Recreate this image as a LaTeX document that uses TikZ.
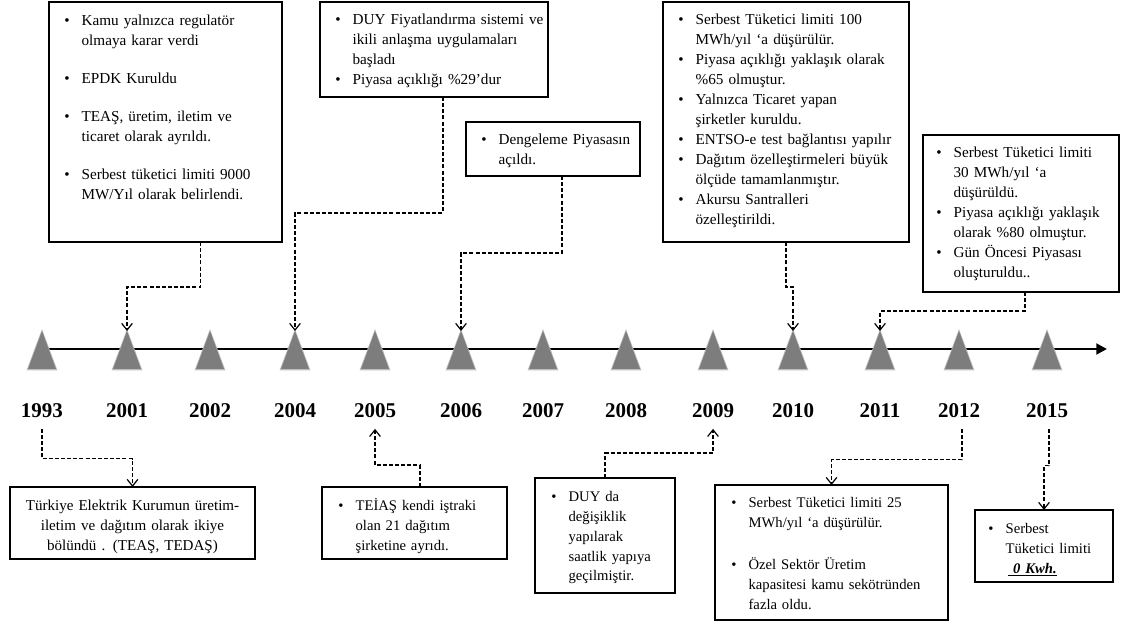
\documentclass[tikz,border=0pt]{standalone}
\usepackage{fontspec}
\setmainfont{Liberation Serif}
\usetikzlibrary{arrows.meta}
\newcommand\bul[1]{\hangindent=13pt\hangafter=1\noindent\hbox to 13pt{\textbullet\hss}#1\par}
\begin{document}
\begin{tikzpicture}[x=0.75pt,y=-0.75pt,
  box/.style={draw=black, line width=1.1pt, anchor=north west, inner sep=0pt, outer sep=0pt},
  txt/.style={anchor=base west, inner sep=0pt, align=left, text width=250*0.75pt, font=\fontsize{11.4}{15}\selectfont},
  stxt/.style={txt, font=\fontsize{11}{15}\selectfont},
  ctxt/.style={anchor=base, inner sep=0pt, align=center, text width=240*0.75pt, font=\fontsize{11.3}{15}\selectfont},
  conn/.style={line width=0.9pt, dash pattern=on 3pt off 1.6pt, -{Straight Barb[length=5pt,width=8pt]}},
  yr/.style={font=\fontsize{15.75}{18}\selectfont\bfseries, inner sep=0pt, outer sep=8pt, anchor=base},
  tri/.style={fill={rgb,255:red,125;green,125;blue,125}},
  trish/.style={fill={rgb,255:red,190;green,190;blue,190}}
]
\useasboundingbox (0,0) rectangle (1122,627);
% axis
\draw[line width=2.2pt, -{Triangle[length=8pt,width=8pt]}] (42,349) -- (1107,349);
% triangles and years
\foreach \x/\n in {42/1993,127/2001,210/2002,295/2004,375/2005,461/2006,543/2007,626/2008,713/2009,793/2010,880/2011,959/2012,1047/2015}{
  \fill[trish] (\x-15.5,370.5) -- (\x,329) -- (\x+15.5,370.5) -- cycle;
  \fill[tri] (\x-14,369) -- (\x,331) -- (\x+14,369) -- cycle;
  \coordinate (a\n) at (\x,331);
  \node[yr] (y\n) at (\x,418) {\n};
}
% top boxes
\node[box, minimum width=233*0.75pt, minimum height=240*0.75pt] (A) at (49,2) {};
\node[txt] (At) at ([shift={(15,24)}]A.north west) {\setlength\parskip{13.5pt}%
\bul{Kamu yalnızca regulatör\newline olmaya karar verdi}
\bul{EPDK Kuruldu}
\bul{TEAŞ, üretim, iletim ve\newline ticaret olarak ayrıldı.}
\bul{Serbest tüketici limiti 9000\newline MW/Yıl olarak belirlendi.}};

\node[box, minimum width=228*0.75pt, minimum height=95*0.75pt] (B) at (320,2) {};
\node[txt] (Bt) at ([shift={(15,23)}]B.north west) {%
\bul{DUY Fiyatlandırma sistemi ve\newline ikili anlaşma uygulamaları\newline başladı}
\bul{Piyasa açıklığı \%29’dur}};

\node[box, minimum width=174*0.75pt, minimum height=54*0.75pt] (C) at (466,122) {};
\node[txt] (Ct) at ([shift={(15,23)}]C.north west) {%
\bul{Dengeleme Piyasasın\newline açıldı.}};

\node[box, minimum width=246*0.75pt, minimum height=240*0.75pt] (D) at (663,2) {};
\node[txt] (Dt) at ([shift={(15,23)}]D.north west) {%
\bul{Serbest Tüketici limiti 100\newline MWh/yıl ‘a düşürülür.}
\bul{Piyasa açıklığı yaklaşık olarak\newline \%65 olmuştur.}
\bul{Yalnızca Ticaret yapan\newline şirketler kuruldu.}
\bul{ENTSO-e test bağlantısı yapılır}
\bul{Dağıtım özelleştirmeleri büyük\newline ölçüde tamamlanmıştır.}
\bul{Akursu Santralleri\newline özelleştirildi.}};

\node[box, minimum width=196*0.75pt, minimum height=157*0.75pt] (E) at (923,135) {};
\node[txt] (Et) at ([shift={(13,23)}]E.north west) {%
\bul{Serbest Tüketici limiti\newline 30 MWh/yıl ‘a\newline düşürüldü.}
\bul{Piyasa açıklığı yaklaşık\newline olarak \%80 olmuştur.}
\bul{Gün Öncesi Piyasası\newline oluşturuldu..}};

% bottom boxes
\node[box, minimum width=245*0.75pt, minimum height=72*0.75pt] (F) at (10,487) {};
\node[ctxt] (Ft) at ([shift={(0,23)}]F.north) {Türkiye Elektrik Kurumun üretim-\\ iletim ve dağıtım olarak ikiye\\ bölündü . (TEAŞ, TEDAŞ)};

\node[box, minimum width=185*0.75pt, minimum height=72*0.75pt] (H) at (322,487) {};
\node[stxt] (Ht) at ([shift={(16,23)}]H.north west) {%
\bul{TEİAŞ kendi iştraki\newline olan 21 dağıtım\newline şirketine ayrıdı.}};

\node[box, minimum width=140*0.75pt, minimum height=115*0.75pt] (G) at (535,478) {};
\node[stxt] (Gt) at ([shift={(16,23)}]G.north west) {%
\bul{DUY da\newline değişiklik\newline yapılarak\newline saatlik yapıya\newline geçilmiştir.}};

\node[box, minimum width=233*0.75pt, minimum height=135*0.75pt] (I) at (715,485) {};
\node[stxt] (It) at ([shift={(16,23)}]I.north west) {\setlength\parskip{16pt}%
\bul{Serbest Tüketici limiti 25\newline MWh/yıl ‘a düşürülür.}
\bul{Özel Sektör Üretim\newline kapasitesi kamu sekötründen\newline fazla oldu.}};

\node[box, minimum width=138*0.75pt, minimum height=72*0.75pt] (J) at (975,510) {};
\node[stxt] (Jt) at ([shift={(13,23)}]J.north west) {%
\bul{Serbest\newline Tüketici limiti\newline \hspace*{2pt}\underline{\textbf{\textit{\ 0 Kwh.}}}}};

% connectors top
\draw[conn] (A.south) ++(35,0) -- ++(0,45) -| (a2001);
\draw[conn] (B.south) ++(9,0) -- ++(0,116) -| (a2004);
\draw[conn] (C.south) ++(9,0) -- ++(0,77) -| (a2006);
\draw[conn] (D.south) -- ++(0,45) -| (a2010);
\draw[conn] (E.south) ++(4,0) -- ++(0,19) -| (a2011);
% connectors bottom
\draw[conn] (y1993.south) -- ++(0,30) -| (F.north);
\draw[conn] (H.north) ++(5.5,0) -- ++(0,-22) -| (y2005.south);
\draw[conn] (G.north) -- ++(0,-25) -| (y2009.south);
\draw[conn] (y2012.south) ++(3,0) -- ++(0,31) -| (I.north);
\draw[conn] (y2015.south) ++(2,0) -- ++(0,37) -| (J.north);
\end{tikzpicture}
\end{document}
